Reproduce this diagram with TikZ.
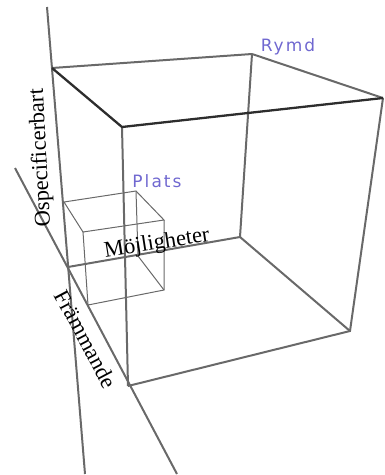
\documentclass[tikz,border=0pt]{standalone}
\usepackage{fontspec}
\setmainfont{Liberation Serif}
\newfontfamily\handfont[LetterSpace=12]{DejaVu Sans}
\definecolor{lblue}{RGB}{112,104,208}
\definecolor{edgegray}{RGB}{105,105,105}
\definecolor{edgedark}{RGB}{45,45,45}
\tikzset{
  axisline/.style={draw=edgegray, line width=2pt},
  bigedge/.style={draw=edgegray, line width=2pt},
  darkedge/.style={draw=edgedark, line width=2.3pt},
  smalledge/.style={draw=edgegray, line width=1pt},
  axislabel/.style={font=\fontsize{22.5}{24}\selectfont, inner sep=0pt},
  handlabel/.style={font=\handfont\fontsize{17}{19}\selectfont, text=lblue, inner sep=0pt}
}
\begin{document}
\begin{tikzpicture}[x=1pt, y=-1pt]
\useasboundingbox (0,0) rectangle (384,475);
% axis ends
\coordinate (vtop) at (47,7);
\coordinate (vbot) at (85,474);
\coordinate (ftop) at (15,168);
\coordinate (fbot) at (177,474);
\coordinate (O) at (68,267);
% big cube
\coordinate (Btl) at (52,68);
\coordinate (Btr) at (252,54);
\coordinate (Ftl) at (122,127);
\coordinate (Ftr) at (383,98);
\coordinate (Fbl) at (128,386);
\coordinate (Fbr) at (350,331);
\coordinate (Bbr) at (240,237);
% small cube
\coordinate (sBtl) at (64,202);
\coordinate (sBtr) at (136,191);
\coordinate (sFtl) at (83,232);
\coordinate (sFtr) at (164,220);
\coordinate (sFbl) at (88,305);
\coordinate (sFbr) at (164,290);
\coordinate (sBbr) at (138,256);
% axes
\draw[axisline] (vtop) -- (vbot);
\draw[axisline] (ftop) -- (fbot);
\draw[axisline] (O) -- (Bbr);
% small cube
\draw[smalledge] (sBtl) -- (sBtr) -- (sFtr) -- (sFtl) -- cycle;
\draw[smalledge] (sFtl) -- (sFbl) -- (sFbr) -- (sFtr);
\draw[smalledge] (sBtr) -- (sBbr) -- (sFbr);
% big cube
\draw[bigedge] (Btl) -- (Btr);
\draw[bigedge] (Btr) -- (Bbr) -- (Fbr);
\draw[bigedge] (Fbl) -- (Fbr) -- (Ftr);
\draw[bigedge] (Ftl) -- (Fbl);
\draw[bigedge] (Btr) -- (Ftr);
\draw[darkedge] (Btl) -- (Ftl) -- (Ftr);
% labels
\node[axislabel, rotate=93] (osp) at (41,158) {Ospecificerbart};
\node[axislabel, rotate=9] (moj) at (157,244) {Möjligheter};
\node[axislabel, rotate=-62] (fram) at (86,339) {Främmande};
\node[handlabel] (rymd) at (288,47) {Rymd};
\node[handlabel] (plats) at (157,181) {Plats};
\end{tikzpicture}
\end{document}
